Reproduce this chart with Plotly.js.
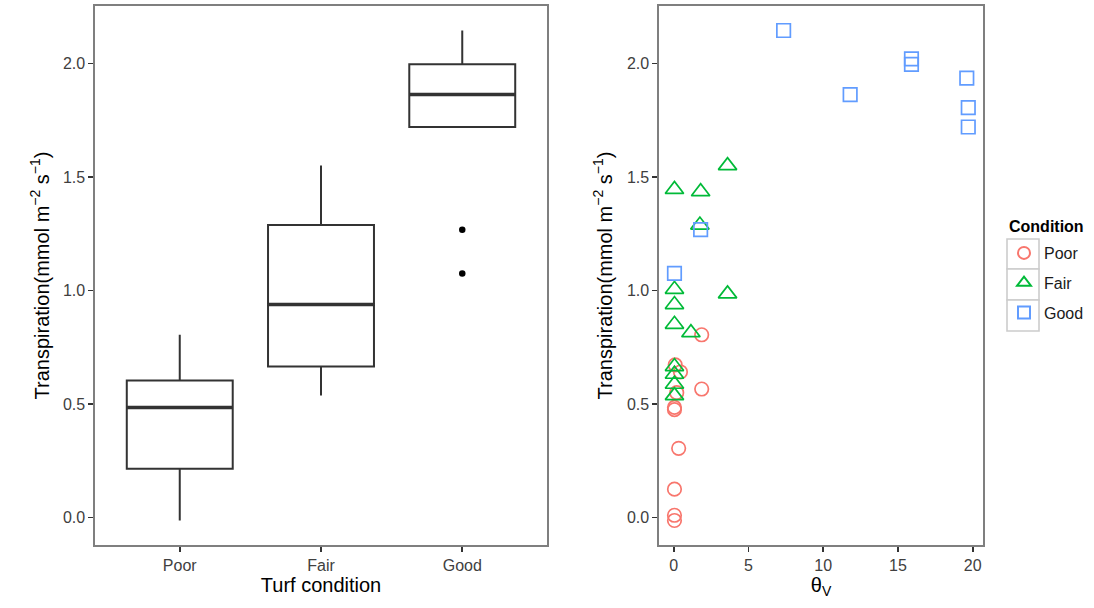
<!DOCTYPE html>
<html>
<head>
<meta charset="utf-8">
<script src="https://cdn.plot.ly/plotly-3.0.1.min.js"></script>
<style>html,body{margin:0;padding:0;background:#fff;}#chart{width:1094px;height:608px;}</style>
</head>
<body>
<div id="chart"></div>
<script>
// ---- data ----
const conditions = ['Poor', 'Fair', 'Good'];
const conditionColors = ['#F8766D', '#00BA38', '#619CFF'];
const conditionSymbols = ['circle-open', 'triangle-up-open', 'square-open'];

// theta_v and transpiration for each turf condition
const poorTheta = [0.05, 0.05, 0.05, 0.33, 0.05, 0.05, 0.2, 1.87, 0.45, 0.1, 1.87];
const poorTransp = [-0.013, 0.01, 0.125, 0.305, 0.475, 0.485, 0.55, 0.566, 0.641, 0.672, 0.805];

const fairTheta = [0.05, 0.05, 0.05, 0.05, 1.15, 0.05, 0.05, 3.6, 0.05, 1.75, 1.8, 0.05, 3.6];
const fairTransp = [0.537, 0.587, 0.631, 0.665, 0.814, 0.851, 0.938, 0.985, 1.005, 1.288, 1.435, 1.445, 1.55];

const goodTheta = [0.05, 1.8, 19.7, 19.7, 11.8, 19.6, 15.9, 15.9, 7.35];
const goodTransp = [1.075, 1.268, 1.72, 1.805, 1.863, 1.935, 1.996, 2.02, 2.145];

const thetaByCond = [poorTheta, fairTheta, goodTheta];
const transpByCond = [poorTransp, fairTransp, goodTransp];

const yTickVals = [0, 0.5, 1, 1.5, 2];
const xTickVals = [0, 5, 10, 15, 20];

// ---- helpers ----
function median(arr) {
  const s = arr.slice().sort((a, b) => a - b);
  const n = s.length, m = Math.floor(n / 2);
  return n % 2 ? s[m] : (s[m - 1] + s[m]) / 2;
}

// ---- build traces ----
const boxX = [], boxY = [];
conditions.forEach((c, i) => {
  transpByCond[i].forEach(v => { boxX.push(c); boxY.push(v); });
});

const BOX_W = 0.75;

const traces = [{
  type: 'box',
  x: boxX,
  y: boxY,
  xaxis: 'x',
  yaxis: 'y',
  width: BOX_W,
  boxpoints: 'outliers',
  quartilemethod: 'inclusive',
  whiskerwidth: 0,
  fillcolor: 'rgba(255,255,255,0)',
  line: {color: '#333333', width: 2},
  marker: {color: '#000000', size: 6.5, outliercolor: '#000000'},
  showlegend: false,
  hoverinfo: 'y'
}];

conditions.forEach((c, i) => {
  traces.push({
    type: 'scatter',
    mode: 'markers',
    name: c,
    legendgroup: c,
    x: thetaByCond[i],
    y: transpByCond[i],
    xaxis: 'x2',
    yaxis: 'y2',
    marker: {
      symbol: conditionSymbols[i],
      size: i === 1 ? 16 : 13.5,
      color: conditionColors[i],
      line: {width: 1.7, color: conditionColors[i]}
    }
  });
});

const W = 1094, H = 608;
const px = v => v / W;
const py = v => 1 - v / H;

const fontFam = '"Liberation Sans", Arial, sans-serif';
const yTitle = 'Transpiration(mmol m<sup>\u22122</sup> s<sup>\u22121</sup>)';
const yRange = [-0.121, 2.253];
const tickFont = {family: fontFam, size: 16, color: '#404040'};
const titleFont = {family: fontFam, size: 20, color: '#000000'};

const commonAxis = {
  showline: true,
  mirror: true,
  linecolor: '#7f7f7f',
  linewidth: 1.6,
  showgrid: false,
  zeroline: false,
  ticks: 'outside',
  ticklen: 5,
  tickwidth: 1.6,
  tickcolor: '#333333',
  tickfont: tickFont,
  automargin: false
};

// thicker median bars, as in the reference
const medianShapes = conditions.map((c, i) => {
  const m = median(transpByCond[i]);
  return {
    type: 'line', xref: 'x', yref: 'y',
    x0: i - BOX_W / 2, x1: i + BOX_W / 2, y0: m, y1: m,
    line: {color: '#333333', width: 3.5}, layer: 'above'
  };
});

const legendBoxes = [[239, 269], [269, 300], [300, 331]].map(([t, b]) => ({
  type: 'rect', xref: 'paper', yref: 'paper',
  x0: px(1007), x1: px(1039), y0: py(b), y1: py(t),
  line: {color: '#cccccc', width: 1.6}, fillcolor: '#ffffff', layer: 'below'
}));

const layout = {
  width: W,
  height: H,
  margin: {l: 0, r: 0, t: 0, b: 0},
  paper_bgcolor: '#ffffff',
  plot_bgcolor: '#ffffff',
  font: {family: fontFam, color: '#000000'},
  showlegend: true,
  xaxis: Object.assign({}, commonAxis, {
    domain: [px(95), px(547)],
    anchor: 'y',
    type: 'category',
    categoryorder: 'array',
    categoryarray: conditions,
    range: [-0.6, 2.6],
    title: {text: 'Turf condition', font: titleFont, standoff: 2}
  }),
  yaxis: Object.assign({}, commonAxis, {
    domain: [py(545), py(6)],
    anchor: 'x',
    range: yRange,
    tickvals: yTickVals,
    tickformat: '.1f',
    title: {text: yTitle, font: titleFont, standoff: 8}
  }),
  xaxis2: Object.assign({}, commonAxis, {
    domain: [px(659), px(983)],
    anchor: 'y2',
    range: [-0.985, 20.685],
    tickvals: xTickVals,
    title: {text: '\u03b8<sub>V</sub>', font: titleFont, standoff: 0}
  }),
  yaxis2: Object.assign({}, commonAxis, {
    domain: [py(545), py(6)],
    anchor: 'x2',
    range: yRange,
    tickvals: yTickVals,
    tickformat: '.1f',
    title: {text: yTitle, font: titleFont, standoff: 9}
  }),
  legend: {
    x: px(1004), y: py(236), xanchor: 'left', yanchor: 'top',
    font: {family: fontFam, size: 16, color: '#1a1a1a'},
    traceorder: 'grouped',
    tracegroupgap: 6,
    bgcolor: 'rgba(0,0,0,0)',
    itemsizing: 'constant'
  },
  annotations: [{
    text: '<b>Condition</b>', xref: 'paper', yref: 'paper',
    x: px(1007), y: py(226), xanchor: 'left', yanchor: 'middle',
    showarrow: false, font: {family: fontFam, size: 16, color: '#000000'}
  }],
  shapes: medianShapes.concat(legendBoxes)
};

Plotly.newPlot('chart', traces, layout, {displayModeBar: false, staticPlot: true});
</script>
</body>
</html>
